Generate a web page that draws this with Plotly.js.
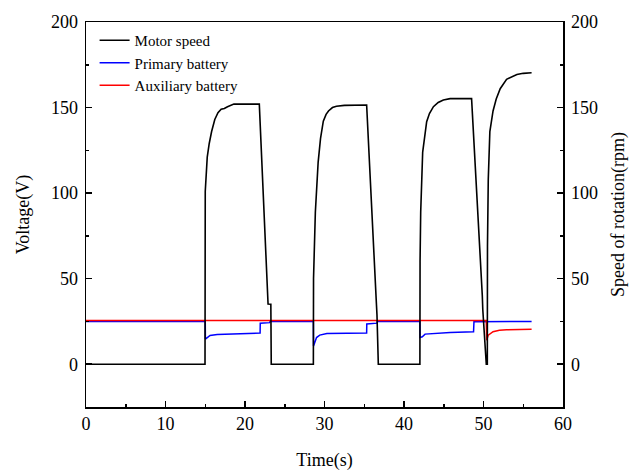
<!DOCTYPE html>
<html>
<head>
<meta charset="utf-8">
<script src="https://cdn.plot.ly/plotly-3.0.1.min.js"></script>
<style>html,body{margin:0;padding:0;background:#fff;}#chart{width:638px;height:473px;}</style>
</head>
<body>
<div id="chart"></div>
<script>
// Motor speed (rpm), right axis
const speedTime = [0,14.97,15.0,15.1,15.25,15.5,15.8,16.2,16.6,17.0,17.4,17.8,18.2,18.6,21.8,22.9,23.25,23.3,
  28.6,28.62,28.85,29.2,29.5,29.85,30.2,30.5,31.0,31.5,32.5,35.3,36.5,36.52,36.54,36.56,36.6,36.77,
  42.0,42.02,42.1,42.35,42.6,42.85,43.2,43.7,44.3,44.95,45.8,48.5,49.85,49.87,49.89,49.91,50.35,50.48,
  50.5,50.6,50.8,51.0,51.2,51.6,52.1,52.9,53.5,54.2,55.0,56.05];
const speedVal = [0,0,101,112,121,129,136,143,147,149,149.5,150.5,151.5,152,152,35.2,35,0,
  0,50,89,118,132,142,146,148,150,150.8,151.3,151.5,38,30.5,38,30,29,0,
  0,60,89,124,134,141.7,146.5,150.5,153,154.4,155.2,155.2,40,32,40,32,0,0,
  69,108,136,143,148,155,161,166.5,168,169.3,170,170.3];

// Primary battery voltage (V)
const primTime = [0,15.0,15.02,15.3,15.6,16.5,18,21.9,21.92,23.1,23.15,28.6,28.62,28.8,29.0,29.4,30.3,35.3,35.32,36.6,36.65,
  42.0,42.02,42.3,42.65,45.8,48.75,48.8,56.05];
const primVal = [25,25,14.7,16,16.8,17.3,17.6,18.2,24,24.3,25,25,10.7,13.5,15.6,17,18,18.2,23.5,24,25,
  25,15.6,16,17.6,18.6,19,24.8,25];

// Auxiliary battery voltage (V)
const auxTime = [0,50.35,50.4,50.6,51.2,52.0,52.9,56.05];
const auxVal = [25.6,25.6,14,17,19,19.8,20.1,20.5];

const seriesNames = ["Motor speed","Primary battery","Auxiliary battery"];

const FONT = "Liberation Serif, Times New Roman, serif";

const traces = [
  {x: speedTime, y: speedVal, name: seriesNames[0], yaxis: "y2", mode: "lines",
   line: {color: "#000000", width: 1.6}},
  {x: primTime, y: primVal, name: seriesNames[1], mode: "lines",
   line: {color: "#0000ff", width: 1.5}},
  {x: auxTime, y: auxVal, name: seriesNames[2], mode: "lines",
   line: {color: "#ff0000", width: 1.5}}
];

const axisCommon = {
  showline: true, linecolor: "#000", linewidth: 1.5,
  ticks: "inside", ticklen: 6, tickwidth: 1.5, tickcolor: "#000",
  showgrid: false, zeroline: false,
  tickfont: {family: FONT, size: 18, color: "#000"}
};

const layout = {
  width: 638, height: 473,
  margin: {l: 86, r: 75, t: 22, b: 66},
  paper_bgcolor: "#fff", plot_bgcolor: "#fff",
  font: {family: FONT, color: "#000"},
  showlegend: true,
  legend: {x: 0.018, y: 0.995, xanchor: "left", yanchor: "top",
    bgcolor: "rgba(0,0,0,0)", font: {family: FONT, size: 15, color: "#000"}, tracegroupgap: 0},
  xaxis: Object.assign({}, axisCommon, {
    range: [0, 60], dtick: 10, mirror: true,
    minor: {dtick: 5, ticks: "inside", ticklen: 3, tickwidth: 1.5, tickcolor: "#000", showgrid: false},
    title: {text: "Time(s)", font: {family: FONT, size: 18, color: "#000"}, standoff: 20}
  }),
  yaxis: Object.assign({}, axisCommon, {
    range: [-25, 200], tickvals: [0,50,100,150,200], ticklabelstandoff: 3,
    minor: {tickvals: [-25,25,75,125,175], ticks: "inside", ticklen: 3, tickwidth: 1.5, tickcolor: "#000", showgrid: false},
    title: {text: "Voltage(V)", font: {family: FONT, size: 18, color: "#000"}, standoff: 16}
  }),
  yaxis2: Object.assign({}, axisCommon, {
    range: [-25, 200], tickvals: [0,50,100,150,200], ticklabelstandoff: 3,
    overlaying: "y", side: "right",
    minor: {tickvals: [-25,25,75,125,175], ticks: "inside", ticklen: 3, tickwidth: 1.5, tickcolor: "#000", showgrid: false},
    title: {text: "Speed of rotation(rpm)", font: {family: FONT, size: 18, color: "#000"}, standoff: 14}
  })
};

Plotly.newPlot("chart", traces, layout, {displayModeBar: false, staticPlot: true});
</script>
</body>
</html>
